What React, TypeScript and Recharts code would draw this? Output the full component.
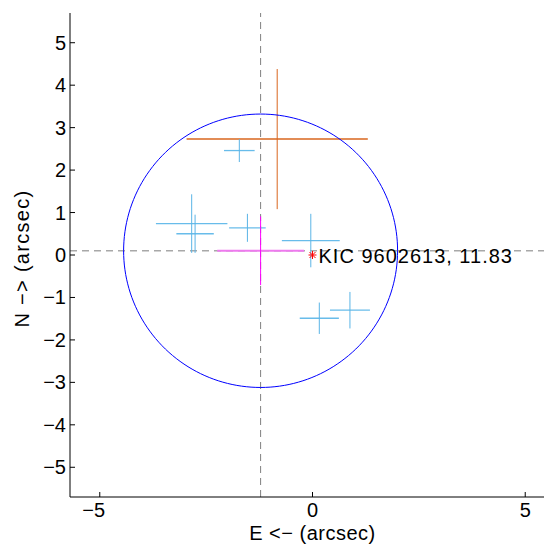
import React from 'react';
import { ScatterChart, Scatter, XAxis, YAxis, ErrorBar, ReferenceLine, Label } from 'recharts';

// ---- axes ----
const axisDomain: [number, number] = [-5.7, 5.7];
const xTicks = [-5, 0, 5];
const yTicks = [-5, -4, -3, -2, -1, 0, 1, 2, 3, 4, 5];
const xAxisTitle = 'E <\u2212 (arcsec)';
const yAxisTitle = 'N \u2212> (arcsec)';

// ---- nearby sources (light blue crosses) ----
const blueX = [-1.72, -2.84, -2.76, -1.53, -0.04, 0.16, 0.88];
const blueY = [2.46, 0.74, 0.5, 0.64, 0.34, -1.49, -1.3];
const blueErrX = [0.36, 0.84, 0.44, 0.43, 0.68, 0.46, 0.47];
const blueErrY = [0.27, 0.69, 0.45, 0.33, 0.63, 0.37, 0.43];

// ---- orange source ----
const orangeX = [-0.83];
const orangeY = [2.73];
const orangeErrX = [2.13];
const orangeErrY = [1.65];

// ---- magenta (centroid) ----
const magentaX = [-1.22];
const magentaY = [0.1];
const magentaErrX = [1.02];
const magentaErrY = [0.81];

// ---- target ----
const targetX = [0];
const targetY = [0];
const targetName = ['KIC 9602613'];
const targetMag = ['11.83'];

// ---- guide lines & circle ----
const guideX = -1.22;
const guideY = 0.1;
const circleCenterX = -1.22;
const circleCenterY = 0.1;
const circleRadius = 3.22;

const blueData = blueX.map((x, i) => ({ x, y: blueY[i], ex: blueErrX[i], ey: blueErrY[i] }));
const orangeData = orangeX.map((x, i) => ({ x, y: orangeY[i], ex: orangeErrX[i], ey: orangeErrY[i] }));
const magentaData = magentaX.map((x, i) => ({ x, y: magentaY[i], ex: magentaErrX[i], ey: magentaErrY[i] }));
const targetData = targetX.map((x, i) => ({ x, y: targetY[i], label: `${targetName[i]}, ${targetMag[i]}` }));
const circleData = Array.from({ length: 181 }, (_, i) => {
  const a = (i * 2 * Math.PI) / 180;
  return { x: circleCenterX + circleRadius * Math.cos(a), y: circleCenterY + circleRadius * Math.sin(a) };
});

const FONT = '"Liberation Sans", Arial, Helvetica, sans-serif';
const fmt = (v: number) => (v < 0 ? `\u2212${Math.abs(v)}` : `${v}`);

const BottomTick = (props: any) => {
  const { x, y, payload } = props;
  const v = payload.value;
  return (
    <g>
      <line x1={x} y1={y} x2={x} y2={y - 5} stroke="#000" strokeWidth={1} />
      <text x={x + (v < 0 ? -6 : 0)} y={y + 20} textAnchor="middle" fontSize={20} fontFamily={FONT} fill="#000">
        {fmt(v)}
      </text>
    </g>
  );
};

const TopTick = (props: any) => {
  const { x, y } = props;
  return <line x1={x} y1={y} x2={x} y2={y + 5} stroke="#000" strokeWidth={1} />;
};

const LeftTick = (props: any) => {
  const { x, y, payload } = props;
  return (
    <g>
      <line x1={x} y1={y} x2={x + 5} y2={y} stroke="#000" strokeWidth={1} />
      <text x={x - 4} y={y + 7} textAnchor="end" fontSize={20} fontFamily={FONT} fill="#000">
        {fmt(payload.value)}
      </text>
    </g>
  );
};

const RightTick = (props: any) => {
  const { x, y } = props;
  return <line x1={x} y1={y} x2={x - 5} y2={y} stroke="#000" strokeWidth={1} />;
};

const XTitle = (props: any) => {
  const vb = props.viewBox || { x: 62, y: 489, width: 485, height: 50 };
  return (
    <text x={vb.x + vb.width / 2} y={vb.y + 43} textAnchor="middle" fontSize={20} fontFamily={FONT} fill="#000" letterSpacing={0.5}>
      {xAxisTitle}
    </text>
  );
};

const YTitle = (props: any) => {
  const vb = props.viewBox || { x: 0, y: 5, width: 62, height: 484 };
  const cx = vb.x + 21;
  const cy = vb.y + vb.height / 2 + 3.5;
  return (
    <text x={cx} y={cy} transform={`rotate(-90 ${cx} ${cy})`} textAnchor="middle" fontSize={20} fontFamily={FONT} fill="#000" letterSpacing={1.3}>
      {yAxisTitle}
    </text>
  );
};

const NoShape = () => <g />;

const TargetShape = (props: any) => {
  const { cx, cy, payload } = props;
  const r = 4;
  const d = 3;
  return (
    <g>
      <line x1={cx - r} y1={cy} x2={cx + r} y2={cy} stroke="#FF0000" strokeWidth={1} />
      <line x1={cx} y1={cy - r} x2={cx} y2={cy + r} stroke="#FF0000" strokeWidth={1} />
      <line x1={cx - d} y1={cy - d} x2={cx + d} y2={cy + d} stroke="#FF0000" strokeWidth={1} />
      <line x1={cx - d} y1={cy + d} x2={cx + d} y2={cy - d} stroke="#FF0000" strokeWidth={1} />
      <text x={cx + 6} y={cy + 7.5} fontSize={20} fontFamily={FONT} fill="#000" letterSpacing={1}>
        {payload.label}
      </text>
    </g>
  );
};

export default function App() {
  return (
    <div style={{ width: 544, height: 539, overflow: 'hidden', background: '#fff' }}>
      <ScatterChart width={560} height={539} margin={{ top: 5, right: 13, bottom: 0, left: 0 }}>
        <XAxis
          xAxisId={0}
          type="number"
          dataKey="x"
          domain={axisDomain}
          allowDataOverflow
          ticks={xTicks}
          height={50}
          tickSize={0}
          tickMargin={0}
          tickLine={false}
          tick={<BottomTick />}
          axisLine={{ stroke: '#000', strokeWidth: 1 }}
          label={<Label content={<XTitle />} />}
        />
        <XAxis
          xAxisId="top"
          orientation="top"
          type="number"
          domain={axisDomain}
          allowDataOverflow
          ticks={xTicks}
          height={0}
          tickSize={0}
          tickMargin={0}
          tickLine={false}
          tick={<TopTick />}
          axisLine={{ stroke: '#000', strokeWidth: 1 }}
        />
        <YAxis
          yAxisId={0}
          type="number"
          dataKey="y"
          domain={axisDomain}
          allowDataOverflow
          ticks={yTicks}
          width={62}
          tickSize={0}
          tickMargin={0}
          tickLine={false}
          tick={<LeftTick />}
          axisLine={{ stroke: '#000', strokeWidth: 1 }}
          label={<Label content={<YTitle />} />}
        />
        <YAxis
          yAxisId="right"
          orientation="right"
          type="number"
          domain={axisDomain}
          allowDataOverflow
          ticks={yTicks}
          width={0}
          tickSize={0}
          tickMargin={0}
          tickLine={false}
          tick={<RightTick />}
          axisLine={{ stroke: '#000', strokeWidth: 1 }}
        />
        <ReferenceLine x={guideX} stroke="#808080" strokeWidth={1} strokeDasharray="7 5" />
        <ReferenceLine y={guideY} stroke="#A8A8A8" strokeWidth={1.5} strokeDasharray="7 5" />
        <Scatter
          data={circleData}
          line={{ stroke: '#0000FF', strokeWidth: 1 }}
          lineType="joint"
          shape={<NoShape />}
          isAnimationActive={false}
        />
        <Scatter data={orangeData} shape={<NoShape />} isAnimationActive={false}>
          <ErrorBar dataKey="ex" direction="x" width={0} stroke="#D9661E" strokeWidth={1.5} isAnimationActive={false} />
          <ErrorBar dataKey="ey" direction="y" width={0} stroke="#D9661E" strokeWidth={1} isAnimationActive={false} />
        </Scatter>
        <Scatter data={blueData} shape={<NoShape />} isAnimationActive={false}>
          <ErrorBar dataKey="ex" direction="x" width={0} stroke="#68BCEA" strokeWidth={1.3} isAnimationActive={false} />
          <ErrorBar dataKey="ey" direction="y" width={0} stroke="#5AB4E6" strokeWidth={1} isAnimationActive={false} />
        </Scatter>
        <Scatter data={magentaData} shape={<NoShape />} isAnimationActive={false}>
          <ErrorBar dataKey="ex" direction="x" width={0} stroke="#EE7AEE" strokeWidth={2} isAnimationActive={false} />
          <ErrorBar dataKey="ey" direction="y" width={0} stroke="#FF00FF" strokeWidth={1} isAnimationActive={false} />
        </Scatter>
        <Scatter data={targetData} shape={<TargetShape />} isAnimationActive={false} />
      </ScatterChart>
    </div>
  );
}
